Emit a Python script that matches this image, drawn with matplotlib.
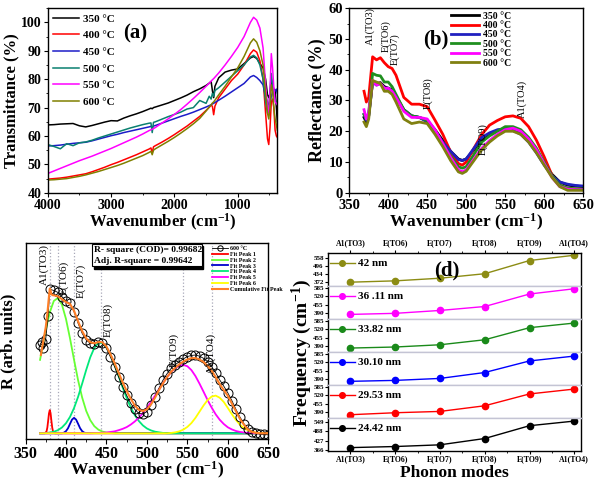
import matplotlib
matplotlib.use('Agg')
import matplotlib.pyplot as plt
from matplotlib.ticker import MultipleLocator
from matplotlib.patches import Rectangle

plt.rcParams['font.family'] = ['Liberation Serif', 'DejaVu Serif']
plt.rcParams['font.weight'] = 'bold'
plt.rcParams['axes.labelweight'] = 'bold'
plt.rcParams['mathtext.default'] = 'regular'
plt.rcParams['axes.linewidth'] = 1.0

# ---------------- (a) FTIR transmittance ----------------
temps = ['350 °C', '400 °C', '450 °C', '500 °C', '550 °C', '600 °C']
ft_wavenumber = [4000, 3900, 3800, 3700, 3600, 3500, 3400, 3300, 3200, 3100, 3000, 2900, 2800, 2700,
                 2600, 2500, 2400, 2370, 2350, 2330, 2300, 2200, 2100, 2000, 1900, 1800, 1700, 1600,
                 1500, 1450, 1420, 1400, 1380, 1360, 1300, 1200, 1100, 1000, 900, 800, 750, 700, 650,
                 600, 560, 530, 510, 490, 470, 450, 430, 410, 390, 375]
ft_350 = [63.9, 64.0, 64.2, 64.3, 64.4, 63.6, 63.2, 63.7, 64.3, 64.9, 65.4, 65.3, 66.3, 67.1, 67.8, 68.6, 69.5,
          69.8, 69.6, 70.0, 70.2,
          70.9, 71.6, 72.5, 73.4, 74.4, 75.6, 76.6, 77.8,
          78.6, 79.2, 76.0, 73.5, 77.5, 80.5,
          82.5, 83.2, 83.6, 85.5, 87.5, 88.0, 87.3, 85.5, 84.0,
          80.0, 74.5, 73.5, 75.0, 80.0, 78.0, 76.5, 76.0, 70.0, 65.0]
ft_400 = [44.8, 45.0, 45.2, 45.5, 45.9, 46.3, 46.7, 47.4, 48.2, 49.0, 49.9, 50.7, 51.6, 52.5, 53.4, 54.4, 55.4,
          55.8, 54.0, 56.2, 56.6,
          57.8, 59.1, 60.5, 62.0, 63.5, 65.2, 66.9, 69.0,
          70.1, 70.8, 70.5, 67.5, 70.5, 73.5,
          76.5, 79.5, 81.8, 85.0, 89.0, 90.3, 89.5, 86.5, 80.0,
          68.0, 59.0, 57.0, 63.0, 72.0, 73.0, 70.0, 62.0, 60.0, 59.5]
ft_450 = [56.5, 56.6, 56.8, 57.1, 57.4, 57.6, 57.8, 58.3, 58.9, 59.5, 60.1, 60.6, 61.2, 61.7, 62.2, 62.7, 63.2,
          63.4, 63.0, 63.5, 63.7,
          64.5, 65.3, 66.1, 66.9, 67.6, 68.4, 69.3, 70.2,
          70.7, 71.0, 71.3, 71.5, 71.8, 72.6,
          74.0, 75.5, 77.0, 78.5, 80.8, 81.3, 80.6, 79.5, 78.0,
          74.0, 72.0, 71.0, 71.5, 74.0, 75.5, 75.0, 76.0, 76.5, 75.0]
ft_500 = [57.0, 56.3, 55.5, 57.3, 56.6, 57.6, 57.9, 58.5, 59.3, 60.0, 60.7, 61.4, 62.1, 62.8, 63.4, 64.0, 64.5,
          64.6, 61.2, 64.8, 65.0,
          65.9, 66.8, 67.6, 68.4, 69.5, 70.0, 72.5, 71.5,
          74.0, 73.0, 75.0, 74.0, 76.0, 77.0,
          79.0, 81.0, 83.0, 85.0, 87.8, 88.4, 87.5, 85.0, 80.0,
          72.0, 68.0, 70.0, 76.0, 82.0, 78.0, 74.0, 73.0, 72.0, 71.0]
ft_550 = [46.8, 47.7, 48.6, 49.5, 50.4, 51.3, 52.1, 52.9, 53.8, 54.7, 55.6, 56.6, 57.6, 58.6, 59.6, 60.7, 61.9,
          62.2, 62.4, 62.6, 63.0,
          64.5, 66.0, 67.6, 69.3, 71.2, 73.2, 75.3, 77.5,
          78.6, 79.3, 79.8, 80.2, 80.7, 82.2,
          85.0, 88.0, 91.2, 95.0, 100.0, 101.8, 100.8, 98.0, 91.0,
          78.0, 70.0, 68.0, 76.0, 89.0, 84.0, 77.0, 72.0, 71.5, 71.0]
ft_600 = [44.5, 44.6, 44.8, 45.0, 45.4, 45.8, 46.3, 46.9, 47.5, 48.2, 48.9, 49.6, 50.4, 51.3, 52.2, 53.1, 54.2,
          54.6, 53.4, 55.0, 55.5,
          56.8, 58.1, 59.5, 61.0, 62.6, 64.3, 66.2, 68.8,
          70.2, 71.0, 71.6, 72.0, 72.6, 74.5,
          77.5, 80.8, 84.0, 88.0, 92.8, 94.2, 93.0, 90.0, 85.0,
          75.0, 68.0, 66.0, 70.0, 78.0, 76.0, 70.0, 66.0, 64.0, 62.0]

# ---------------- (b) Reflectance ----------------
rf_wavenumber = [369, 372, 375, 380, 385, 390, 395, 400, 405, 410, 420, 430, 440, 450, 460, 470, 480, 490,
                 495, 500, 510, 520, 530, 540, 550, 560, 570, 580, 590, 600, 610, 620, 630, 640, 650]
rf_350 = [24.5, 23.0, 25.0, 36.0, 35.5, 35.8, 34.5, 34.0, 33.5, 31.5, 27.0, 25.0, 24.5, 23.5, 20.5, 17.0, 13.5,
          11.0, 10.5, 11.0, 14.0, 17.0, 19.0, 20.3, 20.8, 20.5, 19.5, 17.0, 13.5, 9.5, 6.0, 3.5, 2.5, 2.2, 2.0]
rf_400 = [33.0, 29.5, 31.0, 44.2, 43.2, 43.9, 42.3, 41.0, 40.4, 38.2, 31.0, 28.8, 28.8, 28.0, 23.6, 19.0, 13.3,
          9.5, 9.0, 10.0, 14.5, 19.0, 22.0, 23.5, 24.7, 25.0, 24.2, 21.5, 17.1, 11.7, 5.7, 2.5, 1.4, 1.2, 1.1]
rf_450 = [25.5, 23.5, 25.0, 36.0, 35.0, 35.5, 34.0, 34.0, 33.0, 31.0, 27.0, 25.0, 24.5, 23.0, 20.0, 16.5, 13.5,
          10.8, 10.5, 11.0, 14.5, 18.0, 19.5, 20.5, 20.8, 20.3, 19.0, 16.5, 13.0, 9.0, 5.5, 3.5, 2.8, 2.4, 2.2]
rf_500 = [25.5, 24.0, 26.0, 38.8, 38.2, 38.0, 36.0, 36.0, 34.5, 32.0, 27.0, 25.0, 24.5, 23.5, 20.0, 16.0, 12.0,
          8.5, 8.0, 8.5, 12.5, 16.5, 18.5, 20.0, 21.5, 21.5, 20.5, 18.0, 14.5, 10.0, 5.5, 2.5, 1.5, 1.3, 1.2]
rf_550 = [27.0, 24.0, 26.0, 36.5, 35.0, 35.5, 34.0, 34.0, 33.0, 31.0, 26.5, 24.5, 24.5, 24.0, 20.5, 16.0, 11.5,
          7.5, 6.8, 7.5, 11.0, 14.5, 17.0, 19.0, 20.5, 21.0, 20.0, 17.5, 14.0, 9.5, 5.0, 2.0, 1.2, 1.0, 1.0]
rf_600 = [23.0, 21.5, 24.0, 36.5, 36.0, 35.5, 33.0, 33.0, 32.0, 29.5, 24.0, 22.5, 23.0, 22.5, 19.0, 15.0, 10.5,
          6.8, 6.3, 7.0, 10.5, 14.0, 16.5, 18.5, 20.0, 20.0, 19.0, 16.5, 13.0, 9.0, 5.0, 2.0, 0.8, 0.8, 0.8]
mode_labels = ['A1(TO3)', 'E(TO6)', 'E(TO7)', 'E(TO8)', 'E(TO9)', 'A1(TO4)']
b_label_x = [377, 397, 409, 451, 522, 572]
b_label_y = [48.0, 45.6, 41.5, 27.2, 12.3, 24.3]

# ---------------- (c) peak fit of 600 °C ----------------
c_baseline = 3.1
circ_x = [368, 370, 372, 375, 378] + list(range(380, 655, 5))
circ_y = [49.0, 50.5, 47.0, 52.0, 64.0, 77.6, 77.0, 76.0, 73.8, 71.5, 70.3, 66.0, 60.0, 54.8, 51.4, 49.7, 49.5,
          50.5, 50.0, 47.0, 42.5, 37.6, 32.3, 27.2, 22.7, 18.6, 15.5, 13.4, 13.1, 14.3, 17.8, 22.0, 26.5,
          30.7, 34.0, 36.7, 38.6, 40.2, 41.6, 42.8, 43.4, 43.6, 43.0, 41.9, 40.0, 37.6, 34.5, 30.7, 27.5,
          24.0, 20.0, 15.5, 11.5, 8.0, 5.5, 4.0, 3.2, 2.8, 2.5, 2.3]
cum_x = [369, 370, 375, 377, 379, 380, 381, 382, 384, 385] + list(range(390, 655, 5))
cum_y = [43.6, 46.0, 58.0, 65.0, 74.0, 78.0, 77.0, 75.0, 74.5, 74.5, 74.0, 72.5, 71.0, 70.0, 66.5, 61.0, 56.0,
         52.2, 50.2, 49.7, 50.3, 50.2, 48.0, 44.0, 39.5, 34.5, 29.5, 25.0, 21.0, 17.5, 15.3, 14.6, 15.5,
         18.0, 21.5, 25.5, 29.0, 32.2, 35.0, 37.0, 38.8, 40.2, 41.3, 42.0, 42.0, 41.3, 40.0, 38.0, 35.5,
         32.2, 28.5, 25.5, 22.5, 18.5, 14.5, 10.5, 7.5, 5.0, 3.8, 3.3, 3.1, 3.1, 3.1]
peak_x = [368] + list(range(370, 655, 5))
peak1_x = [368, 374, 376, 377, 378, 379, 380, 381, 382, 383, 384, 386, 650]
peak1_y = [0, 0, 1.0, 3.0, 6.5, 10.3, 12.0, 10.3, 6.5, 3.0, 1.0, 0, 0]
peak2_y = [38.0, 42.5, 53.4, 62.6, 68.5, 70.0, 66.6, 59.2, 49.1, 38.0, 27.4, 18.5, 11.6, 6.8, 3.7, 1.9,
           0.9, 0.4, 0.2] + [0.0] * 39
peak3_x = [368, 395, 397.5, 400, 402.5, 405, 407.5, 410, 412.5, 415, 417.5, 420, 422.5, 425, 650]
peak3_y = [0, 0, 0.35, 1.1, 2.6, 4.9, 7.1, 8.0, 7.1, 4.9, 2.6, 1.1, 0.35, 0.1, 0]
peak4_y = [0.0, 0.0, 0.1, 0.4, 0.8, 1.6, 3.0, 5.2, 8.5, 13.1, 18.9, 25.7, 32.8, 39.3, 44.2, 46.8, 46.6, 44.5,
           40.6, 35.5, 29.7, 23.8, 18.3, 13.4, 9.4, 6.4, 4.1, 2.5, 1.5, 0.85, 0.5, 0.2] + [0.0] * 26
peak5_y = [0.0] * 14 + [0.1, 0.16, 0.3, 0.4, 0.7, 1.0, 1.6, 2.3, 3.2, 4.5, 6.1, 8.1, 10.4, 13.2, 16.2, 19.5,
                        22.8, 26.1, 29.1, 31.7, 33.7, 35.0, 35.4, 34.7, 32.7, 29.6, 25.7, 21.5, 17.2, 13.3,
                        9.8, 7.0, 4.8, 3.1, 2.0, 1.2, 0.7, 0.4, 0.2, 0.1] + [0.0] * 4
peak6_y = [0.0] * 33 + [0.2, 0.5, 1.0, 1.9, 3.3, 5.3, 8.0, 11.2, 14.4, 17.2, 19.0, 19.5, 18.4, 16.2, 13.1,
                        9.9, 6.9, 4.4, 2.6, 1.5, 0.7, 0.4, 0.2, 0.1, 0.0]
c_line_x = [380.6, 390, 410, 443, 544, 580]
c_label_x = [372.4, 397, 419, 452, 533.7, 579]
c_label_y = [79.8, 74.7, 72.9, 53.0, 37.6, 34.0]

# ---------------- (d) phonon modes vs crystallite size ----------------
sizes = ['42 nm', '36 .11 nm', '33.82 nm', '30.10 nm', '29.53 nm', '24.42 nm']
freq_42 = [374, 384, 404, 438, 538, 578]
freq_3611 = [382, 390, 412, 442, 537, 577]
freq_3382 = [377, 385, 402, 440, 532, 567]
freq_3010 = [375, 382, 397, 442, 530, 567]
freq_2953 = [372, 387, 397, 440, 530, 567]
freq_2442 = [381, 388, 399, 440, 523, 553]
d_yticks = [[372, 434, 496, 558], [390, 455, 520, 585], [390, 455, 520, 585],
            [390, 455, 520, 585], [390, 455, 520, 585], [366, 427, 488, 549]]
d_ylims = [(345, 595), (347, 598), (347, 598), (347, 598), (347, 598), (359, 573)]

fig = plt.figure(figsize=(6.0, 4.82), dpi=100)

# ===== (a) =====
axa = fig.add_axes([0.0795, 0.600, 0.3827, 0.383])
cols_a = ['#000000', '#ff0000', '#1c1cc8', '#0a8070', '#ff00ff', '#808000']
for lab, col, y in zip(temps, cols_a, [ft_350, ft_400, ft_450, ft_500, ft_550, ft_600]):
    axa.plot(ft_wavenumber, y, color=col, lw=1.1, label=lab)
axa.set_xlim(4000, 375)
axa.set_ylim(40, 105)
axa.set_xticks([4000, 3000, 2000, 1000])
axa.set_yticks([40, 50, 60, 70, 80, 90, 100])
axa.xaxis.set_minor_locator(MultipleLocator(500))
axa.yaxis.set_minor_locator(MultipleLocator(5))
axa.tick_params(which='both', direction='out', labelsize=10, pad=1.5)
axa.tick_params(which='major', length=3)
axa.tick_params(which='minor', length=1.5)
axa.set_xlabel('Wavenumber (cm$^{-1}$)', fontsize=12, labelpad=0)
axa.set_ylabel('Transmittance (%)', fontsize=12, labelpad=1)
axa.legend(loc='upper left', bbox_to_anchor=(0.0, 1.0), frameon=False, fontsize=8,
           handlelength=2.3, handletextpad=0.4, labelspacing=0.62, borderaxespad=0.3, borderpad=0.2)
axa.text(0.38, 0.865, '(a)', transform=axa.transAxes, fontsize=15, ha='center', va='center')

# ===== (b) =====
axb = fig.add_axes([0.582, 0.600, 0.390, 0.383])
cols_b = ['#000000', '#ff0000', '#2020c0', '#1f8f1f', '#ff00ff', '#808010']
for lab, col, y in zip(temps, cols_b, [rf_350, rf_400, rf_450, rf_500, rf_550, rf_600]):
    axb.plot(rf_wavenumber, y, color=col, lw=2.0, label=lab)
axb.set_xlim(350, 650)
axb.set_ylim(0, 60)
axb.set_xticks(range(350, 651, 50))
axb.set_yticks(range(0, 61, 10))
axb.xaxis.set_minor_locator(MultipleLocator(25))
axb.yaxis.set_minor_locator(MultipleLocator(5))
axb.tick_params(which='both', direction='out', labelsize=10.5, pad=1.5)
axb.tick_params(which='major', length=3)
axb.tick_params(which='minor', length=1.5)
axb.set_xlabel('Wavenumber (cm$^{-1}$)', fontsize=12.5, labelpad=0)
axb.set_ylabel('Reflectance (%)', fontsize=13, labelpad=2)
axb.legend(loc='upper left', bbox_to_anchor=(0.42, 1.0), frameon=False, fontsize=7,
           handlelength=2.9, handletextpad=0.4, labelspacing=0.04, borderaxespad=0.15, borderpad=0.2)
axb.text(0.37, 0.83, '(b)', transform=axb.transAxes, fontsize=15, ha='center', va='center')
for lab, xx, yy in zip(mode_labels, b_label_x, b_label_y):
    axb.text(xx, yy, lab, rotation=90, ha='center', va='bottom', fontsize=7.5, fontweight='normal')

# ===== (c) =====
c_left_px, c_right_px = 25.5, 268.3
axc = fig.add_axes([c_left_px / 600, 0.0886, (c_right_px - c_left_px) / 600, 0.407])
for xx in c_line_x:
    axc.axvline(xx, color='#a8a8b8', ls=':', lw=0.9, zorder=1)
peak_cols = ['#ff0000', '#66ff33', '#0000cc', '#00e87a', '#ff00ff', '#ffff00']
handles = []
h_data, = axc.plot(circ_x, circ_y, '-o', color='k', lw=0.6, mfc='none', mec='k', ms=6.5, mew=0.7,
                   zorder=3, label='600 °C')
handles.append(h_data)
peak_series = [(peak1_x, peak1_y), (peak_x, peak2_y), (peak3_x, peak3_y),
               (peak_x, peak4_y), (peak_x, peak5_y), (peak_x, peak6_y)]
for i, ((px, py), col) in enumerate(zip(peak_series, peak_cols)):
    h, = axc.plot(px, [c_baseline + v for v in py], color=col, lw=1.3, zorder=2,
                  label='Fit Peak %d' % (i + 1))
    handles.append(h)
h_cum, = axc.plot(cum_x, cum_y, color='#ff7f27', lw=1.5, zorder=4, label='Cumulative Fit Peak')
handles.append(h_cum)
axc.set_xlim(350, 650)
axc.set_ylim(0, 101.5)
axc.set_xticks(range(350, 651, 50))
axc.set_yticks([])
axc.xaxis.set_minor_locator(MultipleLocator(25))
axc.tick_params(which='both', direction='out', labelsize=11.5, pad=1)
axc.tick_params(which='major', length=3.5)
axc.tick_params(which='minor', length=2)
axc.set_xlabel('Wavenumber (cm$^{-1}$)', fontsize=12.5, labelpad=-1)
axc.set_ylabel('R (arb. units)', fontsize=12)
axc.yaxis.set_label_coords(-0.037, 0.5)
for lab, xx, yy in zip(mode_labels, c_label_x, c_label_y):
    axc.text(xx, yy, lab, rotation=90, ha='center', va='bottom', fontsize=8, fontweight='normal', zorder=5)
axc.add_patch(Rectangle((0.283, 0.870), 0.45, 0.113, transform=axc.transAxes, fc='black', ec='black',
                        zorder=6, clip_on=False))
axc.add_patch(Rectangle((0.275, 0.881), 0.45, 0.113, transform=axc.transAxes, fc='white', ec='black',
                        lw=0.8, zorder=7, clip_on=False))
axc.text(0.284, 0.965, 'R- square (COD)= 0.99682', transform=axc.transAxes, fontsize=6.8,
         ha='left', va='center', zorder=8)
axc.text(0.284, 0.908, 'Adj. R-square = 0.99642', transform=axc.transAxes, fontsize=6.8,
         ha='left', va='center', zorder=8)
axc.legend(handles=handles, loc='upper left', bbox_to_anchor=(0.77, 0.985), frameon=False, fontsize=4.3,
           handlelength=2.6, handletextpad=0.3, labelspacing=0.1, borderaxespad=0, borderpad=0,
           markerscale=0.6)

# ===== (d) =====
d_left, d_right = 328 / 600, 581 / 600
d_bottom, d_top = (482 - 451) / 482, (482 - 253) / 482
h = (d_top - d_bottom) / 6
cols_d = ['#8c8c14', '#ff00ff', '#1a8a1a', '#0000ff', '#ff0000', '#000000']
freqs = [freq_42, freq_3611, freq_3382, freq_3010, freq_2953, freq_2442]
sep_col = '#c4c4d4'
for i in range(6):
    ax = fig.add_axes([d_left, d_top - (i + 1) * h, d_right - d_left, h])
    ax.plot(range(len(mode_labels)), freqs[i], '-o', color=cols_d[i], lw=1.0, ms=4.5, label=sizes[i])
    ax.set_xlim(-0.5, 5.15)
    ax.set_ylim(*d_ylims[i])
    ax.set_yticks(d_yticks[i])
    ax.tick_params(axis='y', labelsize=5.0, direction='out', length=2, pad=1)
    ax.set_xticks(range(6))
    ax.set_xticks([k + 0.5 for k in range(5)], minor=True)
    if i == 0:
        ax.set_xticklabels(mode_labels)
        ax.tick_params(axis='x', which='both', top=True, bottom=False, labeltop=True, labelbottom=False,
                       labelsize=5.6, direction='out', pad=1.5)
        ax.tick_params(axis='x', which='major', length=2.5)
        ax.tick_params(axis='x', which='minor', length=1.5)
        ax.spines['bottom'].set_color(sep_col)
    elif i == 5:
        ax.set_xticklabels(mode_labels)
        ax.tick_params(axis='x', which='both', top=False, bottom=True, labeltop=False, labelbottom=True,
                       labelsize=5.6, direction='out', pad=0.8)
        ax.tick_params(axis='x', which='major', length=2.5)
        ax.tick_params(axis='x', which='minor', length=1.5)
        ax.spines['top'].set_color(sep_col)
    else:
        ax.tick_params(axis='x', which='both', top=False, bottom=False, labeltop=False, labelbottom=False)
        ax.spines['top'].set_color(sep_col)
        ax.spines['bottom'].set_color(sep_col)
    ax.legend(loc='center left', bbox_to_anchor=(0.0, 0.68), frameon=False, fontsize=8,
              handlelength=2.2, handletextpad=0.3, borderaxespad=0.2, borderpad=0, markerscale=0.9)

fig.text(447 / 600, (482 - 270) / 482, '(d)', fontsize=15, ha='center', va='center')
fig.text(302 / 600, (482 - 353) / 482, 'Frequency (cm$^{-1}$)', rotation=90, fontsize=14,
         ha='center', va='center')
fig.text((d_left + d_right) / 2, 1.0 / 482, 'Phonon modes', fontsize=12.5, ha='center', va='bottom')

fig.savefig('out.png', dpi=100)
